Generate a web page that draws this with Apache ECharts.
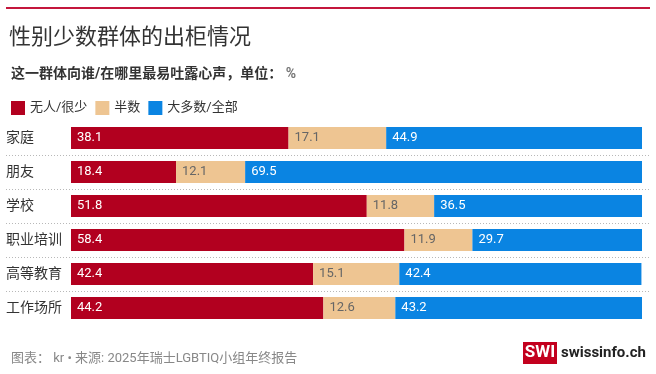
<!DOCTYPE html>
<html><head><meta charset="utf-8">
<script src="https://cdn.jsdelivr.net/npm/echarts@6/dist/echarts.min.js"></script>
<style>html,body{margin:0;padding:0;background:#fff}#c{width:656px;height:374px}</style>
</head><body><div id="c"></div>
<script>
const categories = ['家庭','朋友','学校','职业培训','高等教育','工作场所'];
const seriesNames = ['无人/很少','半数','大多数/全部'];
const noneFew = [38.1, 18.4, 51.8, 58.4, 42.4, 44.2];
const half = [17.1, 12.1, 11.8, 11.9, 15.1, 12.6];
const mostAll = [44.9, 69.5, 36.5, 29.7, 42.4, 43.2];
const colors = ['#b2001f', '#eec592', '#0a84e2'];
const labelColors = ['#ffffff', '#666666', '#ffffff'];

const FF = 'Roboto, "Noto Sans CJK SC", sans-serif';
const chart = echarts.init(document.getElementById('c'), null, {renderer: 'canvas'});
const vals = [noneFew, half, mostAll];
chart.setOption({
  animation: false,
  textStyle: {fontFamily: FF},
  title: [{
    text: '性别少数群体的出柜情况', left: 4, top: 22,
    textStyle: {fontSize: 22, fontWeight: 'normal', color: '#333', fontFamily: FF}
  }, {
    text: '{b|这一群体向谁/在哪里最易吐露心声，单位：}{n| %}', left: 6, top: 63,
    textStyle: {rich: {
      b: {fontSize: 14, fontWeight: 'bold', color: '#333', fontFamily: FF},
      n: {fontSize: 14, color: '#777', fontFamily: FF}
    }}
  }, {
    text: '图表： kr • 来源: 2025年瑞士LGBTIQ小组年终报告', left: 6, top: 347,
    textStyle: {fontSize: 13, fontWeight: 'normal', color: '#888', fontFamily: FF}
  }],
  legend: {
    left: 6, top: 96, itemWidth: 14, itemHeight: 14, itemGap: 8,
    icon: 'rect', data: seriesNames,
    textStyle: {fontSize: 13, color: '#333', fontFamily: FF}
  },
  grid: [
    {left: 71, right: 14, top: 121, height: 204},
    {left: 6, right: 6, top: 121, height: 204}
  ],
  xAxis: [
    {gridIndex: 0, type: 'value', min: 0, max: 100, show: false},
    {gridIndex: 1, type: 'value', min: 0, max: 100, show: false}
  ],
  yAxis: [
    {gridIndex: 0, type: 'category', data: categories, inverse: true,
     axisLine: {show: false}, axisTick: {show: false}, splitLine: {show: false},
     axisLabel: {align: 'left', margin: 65, fontSize: 14, color: '#333', fontFamily: FF}},
    {gridIndex: 1, type: 'category', data: categories, inverse: true,
     axisLine: {show: false}, axisTick: {show: false}, axisLabel: {show: false},
     splitLine: {show: true, showMinLine: false, showMaxLine: false,
       lineStyle: {type: [1, 2], color: '#b8b8b8', width: 1}}}
  ],
  series: seriesNames.map((n, i) => ({
    name: n, type: 'bar', stack: 'all', xAxisIndex: 0, yAxisIndex: 0,
    data: vals[i], barWidth: 22,
    itemStyle: {color: colors[i]},
    label: {show: true, position: 'insideLeft', distance: 6, fontSize: 13,
      color: labelColors[i], fontFamily: FF, formatter: p => p.value.toFixed(1)}
  })),
  graphic: [
    {type: 'rect', shape: {x: 6, y: 7, width: 644, height: 2}, style: {fill: '#c4163c'}},
    {type: 'rect', shape: {x: 523, y: 342, width: 34, height: 22}, style: {fill: '#c3001e'}},
    {type: 'text', x: 540, y: 353, style: {text: 'SWI', fill: '#fff', font: 'bold 17px Roboto, sans-serif', align: 'center', verticalAlign: 'middle'}},
    {type: 'text', x: 561, y: 353, style: {text: 'swissinfo.ch', fill: '#222', font: 'bold 15px Roboto, sans-serif', align: 'left', verticalAlign: 'middle'}}
  ]
});
</script></body></html>
